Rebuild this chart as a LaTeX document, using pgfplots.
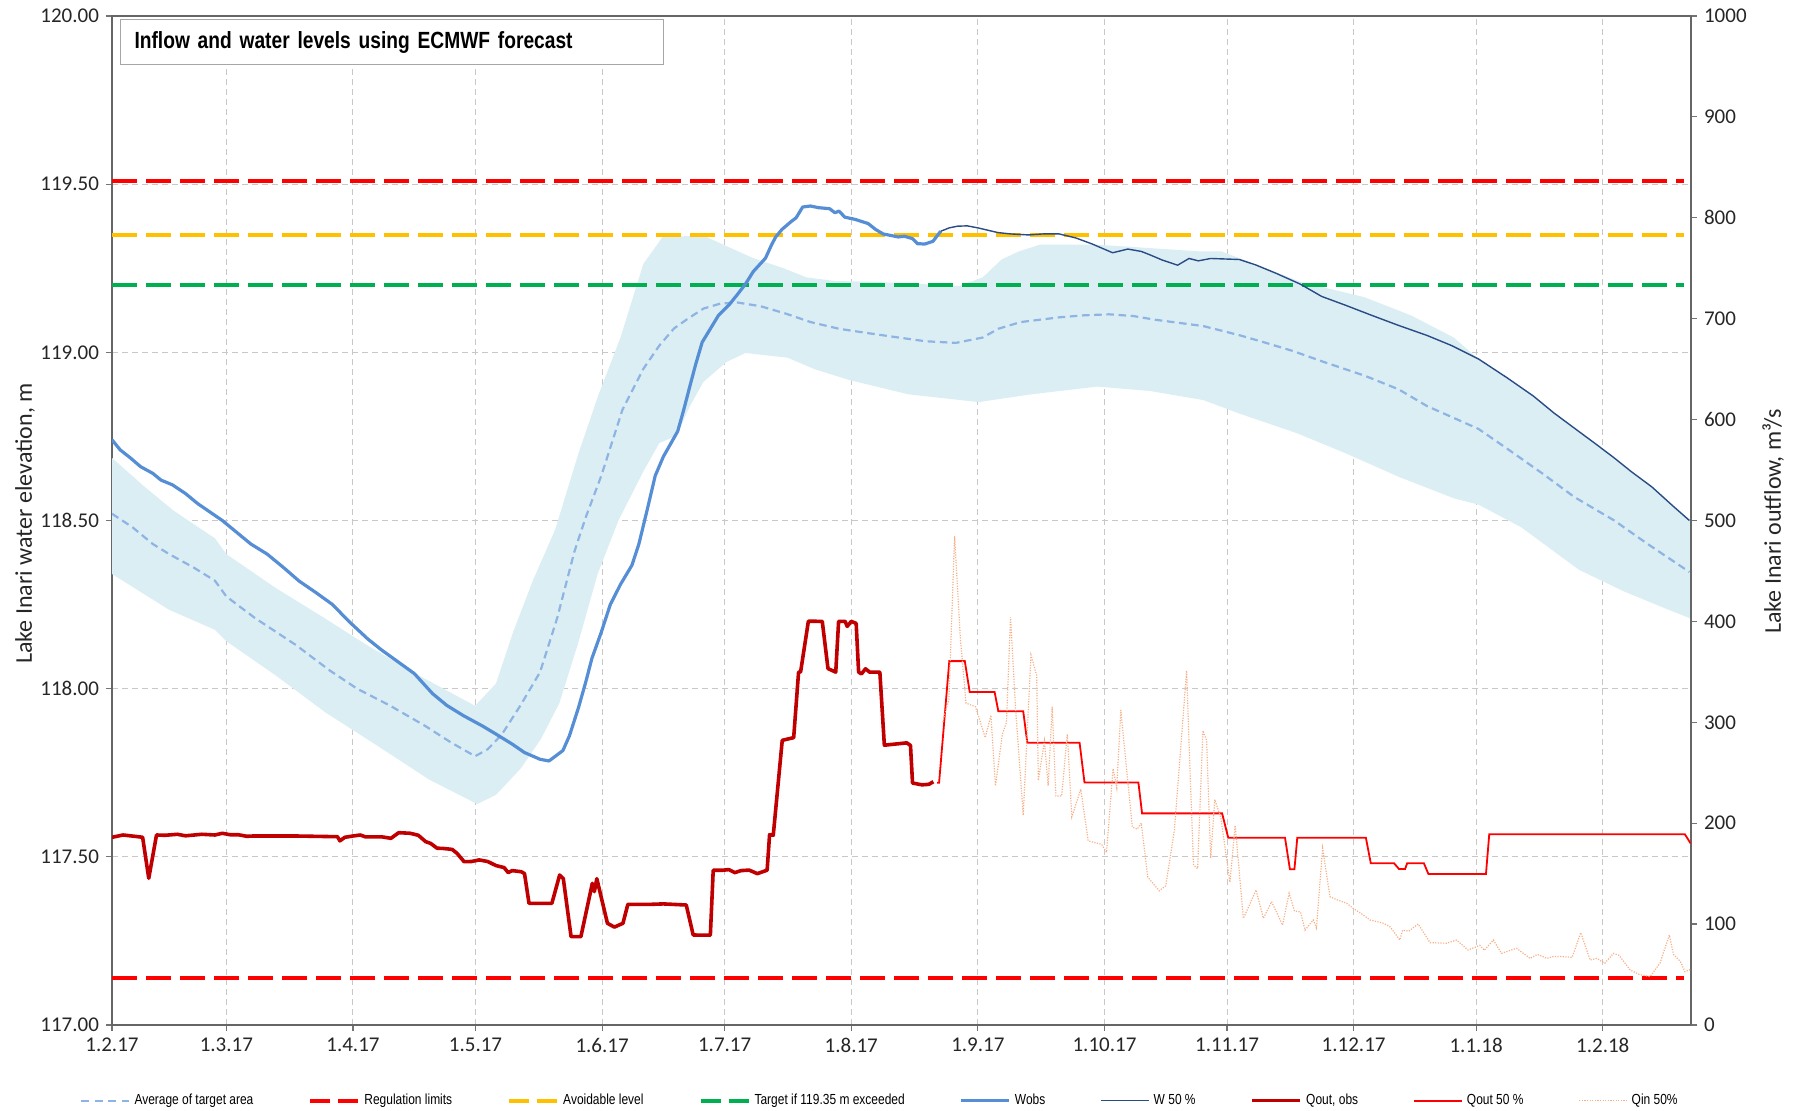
\documentclass[border=0pt]{standalone}
\usepackage{fontspec}
\setmainfont{Carlito}
\newfontfamily\narrowfont[FakeStretch=0.82]{Liberation Sans}
\usepackage{pgfplots}
\pgfplotsset{compat=1.18}
\definecolor{bandcol}{HTML}{DBEEF4}
\definecolor{avgcol}{HTML}{8EB4E3}
\definecolor{regcol}{HTML}{FF0000}
\definecolor{avoidcol}{HTML}{FFC000}
\definecolor{targcol}{HTML}{00B050}
\definecolor{wobscol}{HTML}{558ED5}
\definecolor{w50col}{HTML}{2A4C85}
\definecolor{qobscol}{HTML}{C00000}
\definecolor{qoutcol}{HTML}{FF0000}
\definecolor{qincol}{HTML}{F5B088}
\definecolor{gridcol}{HTML}{C8C8C8}
\begin{document}
\begin{tikzpicture}
\path[use as bounding box] (0,0) rectangle (897pt,555.5pt);
\begin{axis}[
  at={(56pt,43pt)}, anchor=south west,
  scale only axis, width=789.5pt, height=504.5pt,
  xmin=0, xmax=386.6, ymin=117, ymax=120,
  xtick={0,28,59,89,120,150,181,212,243,273,304,334,365},
  xticklabels={1.2.17,1.3.17,1.4.17,1.5.17,1.6.17,1.7.17,1.8.17,1.9.17,1.10.17,1.11.17,1.12.17,1.1.18,1.2.18},
  ytick={117,117.5,118,118.5,119,119.5,120},
  yticklabel style={/pgf/number format/.cd, fixed, fixed zerofill, precision=2, assume math mode=true},
  xtick pos=left, ytick pos=left,
  tick align=outside, major tick length=3pt,
  tick style={black!55, line width=0.6pt},
  tick label style={font=\fontsize{10.5}{12}\selectfont, text=black!85},
  axis line style={black!60, line width=0.8pt},
  grid=major,
  major grid style={gridcol, dash pattern=on 3pt off 2pt, line width=0.5pt},
  ylabel={Lake Inari water elevation, m},
  ylabel style={at={(axis description cs:-0.0551,0.497)}, anchor=center, font=\fontsize{12}{14}\selectfont, text=black!85},
  clip=true,
]
% target area band
\addplot[draw=none, fill=bandcol] coordinates {
(0,118.686) (8,118.60) (15,118.53) (25.2,118.447) (28,118.40) (40,118.30) (52,118.21) (62.6,118.128) (75,118.04) (88.9,117.949) (94,118.015) (98.2,118.168) (103,118.32) (108.5,118.473) (114.2,118.699) (119,118.87) (124.5,119.044) (130.1,119.263) (134.8,119.343) (144.8,119.347) (150.4,119.316) (157,119.28) (164.4,119.25) (170,119.223) (177,119.212) (185.1,119.21) (195,119.205) (207.5,119.197) (213.2,119.223) (217.8,119.276) (222,119.30) (227.2,119.32) (241.3,119.32) (254,119.31) (266.4,119.30) (271.6,119.30) (276,119.28) (290.9,119.21) (306.6,119.164) (318,119.11) (328.5,119.044) (334.6,118.98) (341.6,118.924) (348,118.87) (353,118.82) (359.1,118.765) (363,118.73) (367.8,118.686) (372,118.645) (377,118.6) (382,118.545) (386.6,118.50)
(386.6,118.208) (380,118.24) (370,118.29) (359.1,118.354) (345,118.48) (334.6,118.547) (328.5,118.566) (315,118.63) (302.2,118.699) (290,118.76) (276,118.818) (267.2,118.858) (254.1,118.885) (241.3,118.898) (225,118.875) (212.2,118.852) (195,118.875) (180.4,118.918) (172,118.95) (165.4,118.984) (155.1,118.998) (150.4,118.971) (144.8,118.912) (141.5,118.84) (138.2,118.752) (134,118.73) (130.1,118.646) (124,118.50) (118.9,118.341) (114,118.13) (109.5,117.956) (105,117.85) (100.1,117.763) (94,117.684) (89.4,117.657) (77.6,117.73) (65,117.83) (52.3,117.929) (40,118.04) (28,118.141) (25.2,118.175) (13.9,118.235) (0,118.341)
} -- cycle;
% average of target area
\addplot[avgcol, line width=1.1pt, dash pattern=on 3.8pt off 2.3pt] coordinates {
(0,118.52) (5,118.48) (10,118.43) (14,118.40) (20,118.36) (25.2,118.321) (28,118.274) (35,118.21) (45,118.13) (53.2,118.055) (60,118.00) (68,117.95) (76.7,117.889) (83,117.84) (88.9,117.799) (92,117.82) (95.4,117.863) (100,117.95) (104.8,118.049) (109,118.21) (113.2,118.407) (116,118.51) (119.8,118.633) (125,118.83) (130.1,118.951) (134,119.02) (137.6,119.071) (141,119.10) (144.8,119.130) (149,119.145) (153.2,119.148) (158.8,119.137) (165,119.115) (171,119.09) (178,119.07) (185.1,119.057) (192,119.045) (199.1,119.033) (206.6,119.028) (213.2,119.044) (217,119.07) (222.5,119.09) (231.9,119.104) (238,119.11) (244.1,119.113) (250,119.108) (255.3,119.097) (261,119.088) (267.2,119.078) (276,119.051) (282,119.03) (289.1,119.004) (297,118.97) (306.6,118.931) (315,118.89) (322,118.84) (328.5,118.805) (334.6,118.772) (342,118.71) (350.3,118.639) (358,118.57) (367.8,118.5) (376,118.43) (386.2,118.347)
};
% regulation limits
\addplot[regcol, line width=2pt, dash pattern=on 12.5pt off 4.5pt] coordinates {(0,119.51) (385,119.51)};
\addplot[regcol, line width=2pt, dash pattern=on 12.5pt off 4.5pt] coordinates {(0,117.14) (385,117.14)};
% avoidable level
\addplot[avoidcol, line width=2pt, dash pattern=on 12.5pt off 4.5pt] coordinates {(0,119.35) (385,119.35)};
% target
\addplot[targcol, line width=2pt, dash pattern=on 12.5pt off 4.5pt] coordinates {(0,119.20) (385,119.20)};
% Wobs
\addplot[wobscol, line width=1.6pt, line join=round] coordinates {
(0,118.74) (2,118.71) (4.5,118.686) (7,118.66) (10,118.64) (12,118.62) (14.8,118.606) (18,118.58) (21,118.55) (24,118.525) (27,118.50) (30,118.47) (34,118.43) (38,118.40) (42,118.36) (45.8,118.32) (50,118.285) (54,118.25) (58,118.2) (62.6,118.148) (66,118.115) (70,118.08) (74,118.045) (78.5,117.985) (82,117.95) (86,117.92) (90.7,117.889) (94,117.865) (98,117.835) (101,117.81) (104.8,117.79) (107,117.785) (110.4,117.816) (112,117.86) (114.2,117.943) (116,118.02) (117.5,118.09) (119.8,118.168) (122,118.25) (124.5,118.31) (127.3,118.367) (129,118.43) (131,118.53) (133,118.633) (135,118.69) (138.5,118.765) (140,118.83) (141.5,118.90) (142.9,118.964) (144.5,119.03) (146.5,119.07) (148.5,119.11) (151,119.14) (153,119.17) (155.1,119.203) (157,119.24) (158.5,119.26) (160,119.28) (161.5,119.32) (162.5,119.343) (164,119.365) (166.3,119.389) (167.5,119.40) (169.1,119.432) (171,119.435) (173,119.43) (175.7,119.427) (177,119.415) (178,119.42) (179.4,119.402) (182,119.395) (185.1,119.383) (187,119.365) (188.8,119.352) (192.5,119.343) (194,119.345) (196,119.338) (197.2,119.323) (199,119.322) (201,119.33) (202.9,119.36)
};
% W 50 %
\addplot[w50col, line width=0.7pt] coordinates {
(202.9,119.36) (205,119.37) (207,119.375) (209.4,119.376) (212,119.37) (216.9,119.356) (220,119.352) (224.4,119.349) (228,119.352) (231.9,119.352) (236,119.34) (240,119.322) (245,119.296) (248.7,119.307) (252,119.30) (254.1,119.29) (257,119.275) (260.9,119.259) (263.7,119.279) (266,119.272) (269,119.279) (276,119.276) (280,119.26) (285,119.235) (290.9,119.203) (296.2,119.166) (302,119.14) (308.4,119.11) (315,119.08) (322,119.05) (328,119.02) (334.6,118.98) (341.6,118.924) (348,118.87) (353,118.82) (359.1,118.765) (363,118.73) (367.8,118.686) (372,118.645) (377,118.6) (382,118.545) (386.2,118.50)
};
\node[draw=black!35, line width=0.6pt, fill=white, anchor=north west, minimum height=22.5pt, text width=257.5pt, inner xsep=7pt, align=left, font=\narrowfont\bfseries\fontsize{11.7}{14}\selectfont] at (rel axis cs:0.005,0.997) {Inflow and water levels using ECMWF forecast};
\end{axis}
\begin{axis}[
  at={(56pt,43pt)}, anchor=south west,
  scale only axis, width=789.5pt, height=504.5pt,
  xmin=0, xmax=386.6, ymin=0, ymax=1000,
  axis y line*=right, axis x line=none,
  ytick={0,100,200,300,400,500,600,700,800,900,1000},
  scaled y ticks=false,
  yticklabel style={/pgf/number format/.cd, fixed, 1000 sep={}, assume math mode=true},
  tick align=outside, major tick length=3pt,
  tick style={black!55, line width=0.6pt},
  tick label style={font=\fontsize{10.5}{12}\selectfont, text=black!85},
  axis line style={black!60, line width=0.8pt},
  ylabel={Lake Inari outflow, m³/s},
  ylabel style={at={(axis description cs:1.052,0.499)}, anchor=center, rotate=0, font=\fontsize{12}{14}\selectfont, text=black!85},
  legend columns=9,
  legend style={at={(0.487,-0.075)}, anchor=center, draw=none, fill=none, font=\narrowfont\fontsize{7.3}{8.5}\selectfont, /tikz/every even column/.append style={column sep=25.5pt}, inner sep=0pt},
  legend cell align=left,
  legend image code/.code={\draw[#1] (0pt,0pt) -- (24pt,0pt);},
]
\addlegendimage{avgcol, line width=1.1pt, dash pattern=on 4pt off 2.7pt}
\addlegendentry{Average of target area}
\addlegendimage{regcol, line width=2pt, dash pattern=on 10pt off 4pt}
\addlegendentry{Regulation limits}
\addlegendimage{avoidcol, line width=2pt, dash pattern=on 10pt off 4pt}
\addlegendentry{Avoidable level}
\addlegendimage{targcol, line width=2pt, dash pattern=on 10pt off 4pt}
\addlegendentry{Target if 119.35 m exceeded}
\addlegendimage{wobscol, line width=1.6pt}
\addlegendentry{Wobs}
\addlegendimage{w50col, line width=0.7pt}
\addlegendentry{W 50 \%}
% Qout obs
\addplot[qobscol, line width=1.8pt, line join=round] coordinates {
(0,186) (2.7,188.3) (6.4,186.6) (7.5,186) (9,145.4) (10.9,188.3) (13,188) (16,189) (18,187.5) (22,189) (25.2,188.3) (27,190) (29,188.5) (31,188.5) (33,187) (34.6,187.3) (45,187.3) (55.2,186.6) (55.8,182.5) (57,186) (59,187.3) (60.8,188.3) (62,186.5) (66,186.5) (68.3,185) (70.2,190.6) (73,190) (75,188) (76.8,181.7) (78,180) (79.6,175.2) (81,175) (83.3,174) (84.5,170) (86.2,161.9) (88,162) (89.9,163.6) (92,162) (94,158) (96,156) (97,151) (98,153) (100.2,151.9) (101,150) (102.1,120.6) (107.7,120.6) (109.6,148.6) (110.5,145) (112.4,87.5) (114.8,87.5) (117.6,140.4) (118.1,132.2) (118.7,145) (121.3,100.8) (123,97) (125.1,100.8) (126.3,119.6) (132.1,119.6) (135,120) (140.6,118.9) (142.3,89.2) (144.6,89) (146.5,89) (147.2,153.4) (149.6,153.4) (151,154) (152.5,151) (154,153) (156,153.5) (158,150) (160.4,153.4) (161,188.6) (161.9,188) (164.1,282.1) (166.9,284.8) (168.1,349.7) (168.6,350) (170.5,400.2) (173.9,400) (175.3,353.2) (177.2,349.7) (177.9,400) (179.5,400) (180,395) (181,400) (182.2,398) (182.8,349.7) (183.5,348) (184.5,353) (185.5,349.7) (188,349.7) (189.1,277.3) (194.6,279.6) (195.5,277) (196,239.8) (198.3,238) (200,238.5) (201.1,241.1)
};
\addlegendentry{Qout, obs}
% Qout 50 %
\addplot[qoutcol, line width=0.9pt] coordinates {
(202,240) (202.5,240) (205,360.6) (208.8,360.6) (210,330) (216.1,330) (217,311) (223.1,311) (224.1,279.7) (236.9,279.7) (238.1,240.4) (251.3,240.4) (252.2,209.7) (271.8,209.7) (273.3,185.5) (287.2,185.5) (288.4,154.3) (289.5,154.3) (290.2,185.5) (307,185.5) (308.2,160.3) (313.9,160.3) (315.1,154.6) (316.6,154.6) (317.1,160.3) (321.2,160.3) (322.3,149.7) (336.4,149.7) (337.2,189) (385.1,189) (386.5,180)
};
\addlegendentry{Qout 50 \%}
% Qin 50 %
\addplot[qincol, line width=0.6pt, dash pattern=on 0.6pt off 0.7pt] coordinates {
(203.4,300) (203.9,308.7) (204.9,322.4) (206.3,484.5) (207.7,383.9) (209.1,318.9) (211.4,315.5) (213.8,284.8) (215.2,307) (216.3,237) (218,288.2) (219,300) (220,404.3) (221.2,315.5) (223.1,208) (225,366.7) (226.4,346.3) (226.8,242.3) (228.3,281.5) (229.2,237) (230.2,315.5) (231.1,226.9) (232.5,226.9) (233.9,288.2) (235,206.3) (237.2,233.6) (239,182.5) (242.3,179) (243.5,171) (245.1,254) (246,235) (247,312.2) (248.5,250) (249.8,196.2) (251,194) (252,200) (253.6,146.5) (256.4,133) (258,138) (260.1,192.7) (261.8,281.5) (263.1,351.3) (264,245) (264.8,158.6) (265.8,155) (267.1,291.7) (268,282) (269,165.4) (270,223.4) (271.5,205) (273.7,141.5) (275,197.8) (277,105.7) (278.6,120) (280.1,133.8) (281.9,105.8) (283.9,122.2) (286.6,99.1) (288.2,130.5) (289.5,113) (291,112) (292.1,94) (294.1,104.1) (294.9,96) (296.4,175.2) (298.2,127.1) (300,124) (302.3,120.6) (303.9,115.5) (306,110) (308,104.1) (311.3,100.8) (313,97) (315.3,84.2) (316,94) (317.5,93) (319.8,100.1) (322.7,81.6) (326.8,81) (329.2,84.2) (332,74.3) (334.9,79) (336,74) (338.2,84.2) (340.2,71) (343.9,76) (347.2,66) (349,70) (351.3,66) (353,68) (355.3,67.7) (357.5,67) (359.6,91.5) (361.9,64.4) (363.5,66) (365.5,61.2) (367.6,71) (369,69) (371.7,54.5) (374,50) (376.6,47.9) (379,61.2) (381.3,89.2) (382.3,70) (384,63) (385.1,52.8) (386.4,55)
};
\addlegendentry{Qin 50\%}
\end{axis}
\end{tikzpicture}
\end{document}
